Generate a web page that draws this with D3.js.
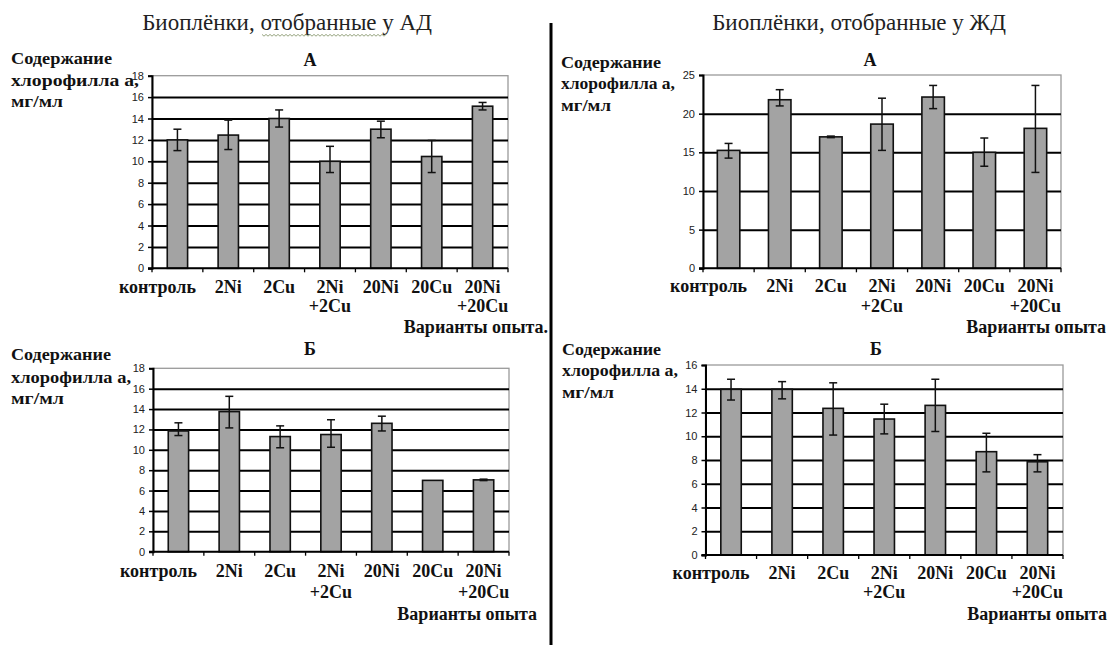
<!DOCTYPE html>
<html><head><meta charset="utf-8">
<script src="https://cdn.jsdelivr.net/npm/d3@7"></script>
</head>
<body style="margin:0">
<svg id="chart" width="1114" height="645"></svg>
<script>
// ---- data ----
const categories = ["контроль", "2Ni", "2Cu", "2Ni+2Cu", "20Ni", "20Cu", "20Ni+20Cu"];

// Биоплёнки, отобранные у АД — А
const adA_mean = [12.0, 12.45, 14.0, 10.0, 13.0, 10.45, 15.15];
const adA_hi   = [13.0, 13.85, 14.8, 11.4, 13.75, 11.95, 15.5];
const adA_lo   = [11.0, 11.1, 13.2, 8.95, 12.2, 8.95, 14.8];
// Биоплёнки, отобранные у ЖД — А
const zdA_mean = [15.25, 21.8, 17.0, 18.65, 22.15, 15.0, 18.1];
const zdA_hi   = [16.15, 23.1, 17.1, 22.0, 23.65, 16.85, 23.65];
const zdA_lo   = [14.25, 21.0, 16.9, 15.25, 20.65, 13.2, 12.4];
// АД — Б
const adB_mean = [11.85, 13.75, 11.3, 11.5, 12.6, 7.0, 7.05];
const adB_hi   = [12.65, 15.25, 12.35, 12.95, 13.3, 7.0, 7.12];
const adB_lo   = [11.4, 12.15, 10.2, 10.25, 11.85, 7.0, 6.98];
// ЖД — Б
const zdB_mean = [13.95, 13.95, 12.35, 11.45, 12.6, 8.7, 7.85];
const zdB_hi   = [14.8, 14.6, 14.5, 12.7, 14.8, 10.25, 8.45];
const zdB_lo   = [13.05, 13.15, 10.1, 10.2, 10.4, 7.0, 7.0];

const ticksAD  = [0, 2, 4, 6, 8, 10, 12, 14, 16, 18];
const ticksZDA = [0, 5, 10, 15, 20, 25];
const ticksZDB = [0, 2, 4, 6, 8, 10, 12, 14, 16];

const titleAD = "Биоплёнки, отобранные у АД";
const titleZD = "Биоплёнки, отобранные у ЖД";
const yTitle = ["Содержание", "хлорофилла а,", "мг/мл"];
const xTitleTop = "Варианты опыта.";
const xTitle = "Варианты опыта";

// ---- layout ----
const svg = d3.select("#chart");
const SERIF = '"Liberation Serif"';
const SANS = '"Liberation Sans"';

svg.append("rect").attr("width", 1114).attr("height", 645).attr("fill", "#fff");

svg.append("text").style("font-family", SERIF).attr("x", 287).attr("y", 30).attr("text-anchor", "middle")
  .attr("font-size", 23).attr("fill", "#222").text(titleAD);
svg.append("text").style("font-family", SERIF).attr("x", 859).attr("y", 30).attr("text-anchor", "middle")
  .attr("font-size", 23).attr("fill", "#222").text(titleZD);
// spell-check squiggle under "отобранные у"
{
  const pts = d3.range(262, 388, 2).map((xx, i) => [xx, 35 + (i % 2 ? 1.2 : -0.6)]);
  svg.append("path").attr("d", d3.line()(pts)).attr("fill", "none")
    .attr("stroke", "#8a9a70").attr("stroke-width", 0.9);
}

// separator
svg.append("line").attr("x1", 551).attr("x2", 551).attr("y1", 23).attr("y2", 645)
  .attr("stroke", "#000").attr("stroke-width", 3);

const panels = [
  {mean: adA_mean, hi: adA_hi, lo: adA_lo, ticks: ticksAD, letter: "А",
   x0: 152, x1: 508, yTop: 75.7, yBot: 268.3, pad: 0.6,
   letterX: 310, letterY: 66, titleX: 11, titleY: [64, 86, 107], titleW: [101, 128, 52],
   labY: 293, labY2: 312, xtX: 548, xtY: 333, xt: xTitleTop},
  {mean: zdA_mean, hi: zdA_hi, lo: zdA_lo, ticks: ticksZDA, letter: "А",
   x0: 703, x1: 1061, yTop: 75, yBot: 268.3, pad: 0.56,
   letterX: 870, letterY: 66, titleX: 561, titleY: [68, 89, 111], titleW: [100, 114, 50],
   labY: 292, labY2: 312, xtX: 1106, xtY: 333, xt: xTitle},
  {mean: adB_mean, hi: adB_hi, lo: adB_lo, ticks: ticksAD, letter: "Б",
   x0: 153, x1: 509, yTop: 368.3, yBot: 551.7, pad: 0.6,
   letterX: 310, letterY: 355, titleX: 11, titleY: [360, 383, 404], titleW: [100, 120, 53],
   labY: 577, labY2: 598, xtX: 537, xtY: 620, xt: xTitle},
  {mean: zdB_mean, hi: zdB_hi, lo: zdB_lo, ticks: ticksZDB, letter: "Б",
   x0: 705.5, x1: 1063, yTop: 365, yBot: 555, pad: 0.6,
   letterX: 876, letterY: 355, titleX: 562, titleY: [355, 376, 398], titleW: [99, 116, 52],
   labY: 579, labY2: 598, xtX: 1107, xtY: 620, xt: xTitle}
];

panels.forEach(p => {
  const g = svg.append("g");
  const x = d3.scaleBand().domain(categories).range([p.x0, p.x1])
    .paddingInner(p.pad).paddingOuter(p.pad / 2);
  const maxT = p.ticks[p.ticks.length - 1];
  const y = d3.scaleLinear().domain([0, maxT]).range([p.yBot, p.yTop]);
  const w = p.x1 - p.x0;

  // plot border (gray top / right)
  g.append("rect").attr("x", p.x0).attr("y", p.yTop).attr("width", w)
    .attr("height", p.yBot - p.yTop).attr("fill", "none")
    .attr("stroke", "#9a9a9a").attr("stroke-width", 1.3);

  // gridlines
  g.append("g").attr("transform", `translate(${p.x0},0)`)
    .call(d3.axisLeft(y).tickValues(p.ticks.filter(t => t > 0 && t < maxT)).tickSize(-w).tickFormat(""))
    .call(s => s.select(".domain").remove())
    .call(s => s.selectAll("line").attr("stroke", "#000").attr("stroke-width", 2));

  // bars
  const data = categories.map((c, i) => ({c, v: p.mean[i], hi: p.hi[i], lo: p.lo[i]}));
  g.selectAll("rect.bar").data(data).join("rect").attr("class", "bar")
    .attr("x", d => x(d.c)).attr("width", x.bandwidth())
    .attr("y", d => y(d.v)).attr("height", d => y(0) - y(d.v))
    .attr("fill", "#a3a3a3").attr("stroke", "#111").attr("stroke-width", 1.6);

  // error bars
  const eb = g.selectAll("g.err").data(data.filter(d => d.hi - d.lo > 0.05)).join("g").attr("class", "err")
    .attr("stroke", "#111").attr("stroke-width", 1.5);
  const cx = d => x(d.c) + x.bandwidth() / 2;
  eb.append("line").attr("x1", cx).attr("x2", cx).attr("y1", d => y(d.hi)).attr("y2", d => y(d.lo));
  eb.append("line").attr("x1", d => cx(d) - 4).attr("x2", d => cx(d) + 4).attr("y1", d => y(d.hi)).attr("y2", d => y(d.hi));
  eb.append("line").attr("x1", d => cx(d) - 4).attr("x2", d => cx(d) + 4).attr("y1", d => y(d.lo)).attr("y2", d => y(d.lo));

  // y axis
  g.append("g").attr("transform", `translate(${p.x0},0)`)
    .call(d3.axisLeft(y).tickValues(p.ticks).tickSize(4).tickPadding(4))
    .call(s => s.select(".domain").attr("stroke", "#000").attr("stroke-width", 2))
    .call(s => s.selectAll(".tick line").attr("stroke", "#000").attr("stroke-width", 1.5))
    .call(s => s.selectAll(".tick text").style("font-family", SANS).attr("font-size", 11).attr("fill", "#222"));

  // x axis line + boundary ticks
  g.append("line").attr("x1", p.x0 - 4).attr("x2", p.x1).attr("y1", y(0)).attr("y2", y(0))
    .attr("stroke", "#000").attr("stroke-width", 2);
  const off = (x.step() - x.bandwidth()) / 2;
  const bounds = categories.map(c => x(c) - off).concat([p.x1]);
  g.selectAll("line.bt").data(bounds).join("line").attr("class", "bt")
    .attr("x1", d => d).attr("x2", d => d).attr("y1", y(0)).attr("y2", y(0) + 4)
    .attr("stroke", "#000").attr("stroke-width", 1.3);

  // x labels (one text per line)
  categories.forEach((c, i) => {
    const parts = c.split("+");
    const xc = x(c) + x.bandwidth() / 2 + (i === 0 ? -20 : 0);
    g.append("text").style("font-family", SERIF).attr("text-anchor", "middle").attr("font-weight", "bold")
      .attr("font-size", 18).attr("fill", "#111").attr("x", xc).attr("y", p.labY).text(parts[0]);
    if (parts.length > 1)
      g.append("text").style("font-family", SERIF).attr("text-anchor", "middle").attr("font-weight", "bold")
        .attr("font-size", 18).attr("fill", "#111").attr("x", xc).attr("y", p.labY2).text("+" + parts[1]);
  });

  // letter
  g.append("text").style("font-family", SERIF).attr("x", p.letterX).attr("y", p.letterY).attr("text-anchor", "middle")
    .attr("font-weight", "bold").attr("font-size", 18).attr("fill", "#111").text(p.letter);

  // y title
  yTitle.forEach((s, k) => {
    g.append("text").style("font-family", SERIF).attr("x", p.titleX).attr("y", p.titleY[k])
      .attr("font-weight", "bold").attr("font-size", 16).attr("fill", "#111")
      .attr("textLength", p.titleW[k]).attr("lengthAdjust", "spacingAndGlyphs").text(s);
  });

  // x title
  g.append("text").style("font-family", SERIF).attr("x", p.xtX).attr("y", p.xtY).attr("text-anchor", "end")
    .attr("font-weight", "bold").attr("font-size", 18).attr("fill", "#111").text(p.xt);
});
</script>
</body></html>
